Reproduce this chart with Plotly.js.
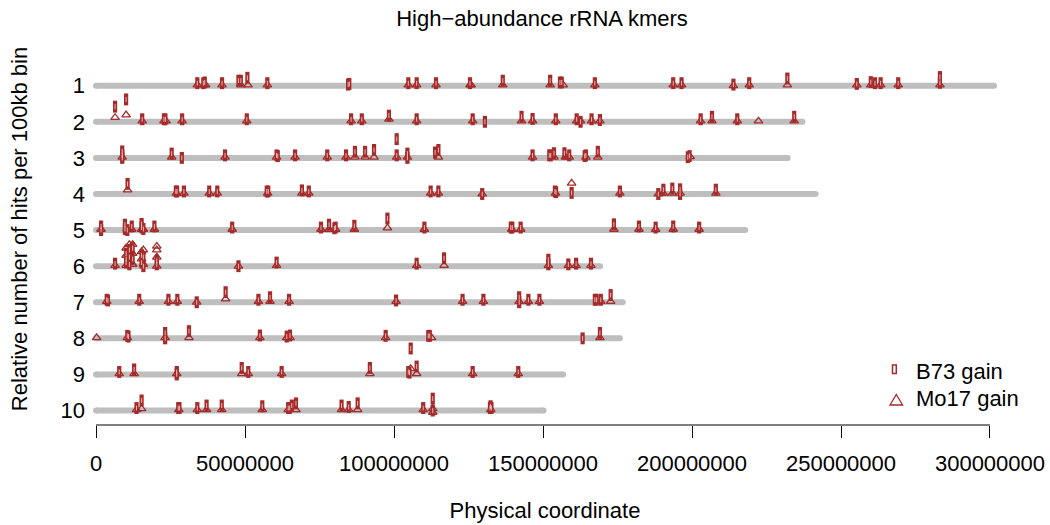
<!DOCTYPE html>
<html><head><meta charset="utf-8">
<script src="https://cdn.plot.ly/plotly-3.0.1.min.js"></script>
<style>html,body{margin:0;padding:0;background:#fff}#chart{width:1050px;height:525px}</style>
</head><body><div id="chart"></div>
<script>
// ---------------- data ----------------
const chromosomes = [1, 2, 3, 4, 5, 6, 7, 8, 9, 10];
const chrLengthsMb = [301.354, 237.069, 232.140, 241.474, 217.873, 169.174, 176.765, 175.794, 156.751, 150.189];
const xTickVals = [0, 50000000, 100000000, 150000000, 200000000, 250000000, 300000000];
const xTickText = ['0', '50000000', '100000000', '150000000', '200000000', '250000000', '300000000'];
const yTickText = ['1', '2', '3', '4', '5', '6', '7', '8', '9', '10'];
const seriesNames = ['B73 gain', 'Mo17 gain'];

// hits per chromosome: [position (Mb), relative number of hits]
const b73Gain = [
  [[34.0,.07],[36.0,.07],[36.5,.09],[42.3,.07],[47.8,.14],[48.6,.14],[50.8,.22],[57.5,.07],[84.6,.03],[85.0,.05],[104.8,.07],[107.6,.07],[114.1,.07],[125.5,.07],[136.5,.14],[152.4,.14],[155.7,.09],[156.3,.09],[167.4,.07],[193.7,.07],[196.5,.07],[213.9,.03],[219.2,.07],[232.0,.2],[255.3,.05],[260.0,.1],[261.4,.07],[263.3,.07],[269.2,.07],[283.2,.24],[283.2,.08]],
  [[6.4,.42],[10.1,.62],[15.5,.07],[22.8,.07],[23.3,.07],[28.9,.07],[50.6,.07],[85.6,.07],[89.2,.07],[98.3,.17],[107.6,.07],[126.4,.07],[130.5,0],[142.8,.14],[146.5,.08],[154.3,.07],[161.3,.07],[162.6,0],[166.3,.07],[169.1,.05],[202.9,.07],[206.7,.14],[215.2,.07],[234.3,.14]],
  [[8.8,.18],[8.8,.07],[8.8,0],[25.4,.12],[28.8,0],[43.3,.07],[60.6,.07],[61.0,.05],[66.8,.07],[77.6,.07],[83.9,.07],[86.9,.17],[90.3,.17],[93.3,.22],[100.9,.52],[100.9,.07],[104.5,.12],[104.5,0],[113.8,.15],[114.9,.22],[146.5,.07],[152.1,.07],[152.6,.07],[153.7,.13],[157.2,.13],[158.8,.07],[164.0,.05],[164.4,.07],[168.4,.17],[198.6,.02],[199.2,.05]],
  [[10.6,.28],[26.8,.07],[27.2,.07],[29.5,.07],[38.0,.07],[40.7,.07],[57.3,.07],[57.8,.07],[69.1,.1],[71.4,.07],[112.3,.07],[114.9,.07],[129.6,0],[154.0,.07],[154.4,.05],[159.6,.03],[175.8,.07],[188.7,0],[190.4,.12],[193.4,.15],[196.0,.13],[196.0,0],[208.0,.12]],
  [[1.7,.1],[1.7,0],[9.7,.15],[9.7,.03],[10.5,0],[12.0,.1],[15.3,.17],[15.3,.07],[15.9,.03],[19.6,.1],[45.7,.07],[75.5,.07],[78.2,.15],[80.0,.05],[80.4,.07],[86.7,.12],[97.8,.32],[110.2,.07],[139.2,.07],[139.7,.07],[142.5,.07],[173.8,.16],[182.2,.1],[187.8,.07],[193.7,.1],[202.4,.07]],
  [[6.4,.07],[10.1,.1],[10.1,.2],[10.1,.35],[11.2,.45],[11.2,.25],[11.2,.05],[12.3,.5],[12.3,.2],[15.3,.3],[15.3,.1],[15.9,.25],[15.9,0],[20.4,.15],[20.4,.05],[47.8,0],[60.6,.1],[107.6,.07],[116.8,.22],[151.8,.18],[151.8,.05],[158.5,.05],[161.1,.07],[166.1,.07]],
  [[3.6,.07],[4.0,.05],[14.5,.07],[24.3,.07],[27.3,.07],[33.8,0],[43.5,.28],[54.5,.07],[58.4,.14],[64.8,.07],[100.7,.05],[123.0,.07],[130.0,.07],[142.0,.14],[142.0,0],[145.1,.07],[148.8,.07],[167.4,.07],[168.0,.07],[169.4,.07],[172.7,.2]],
  [[10.5,.07],[10.9,.05],[23.2,.15],[23.2,0],[31.2,.2],[55.0,.08],[64.0,.05],[65.1,.08],[97.2,.07],[111.5,.07],[112.0,.07],[163.3,0],[169.1,.15]],
  [[7.8,.07],[12.8,.14],[27.1,.07],[27.1,0],[48.9,.18],[51.1,.07],[62.3,.07],[91.9,.18],[104.8,.07],[105.2,.05],[105.6,.72],[107.6,.22],[126.4,.07],[141.7,.07]],
  [[13.6,.07],[15.3,.28],[27.6,.07],[28.0,.07],[34.0,.07],[37.1,.14],[42.2,.14],[55.8,.12],[64.5,.07],[65.0,.07],[65.7,.14],[67.1,.2],[82.4,.14],[84.8,.1],[87.8,.2],[109.8,.07],[113.0,.33],[113.0,0],[132.2,.07],[132.7,.07],[132.4,.12]]
];
const mo17Gain = [
  [[34.0,.02],[36.2,.02],[36.8,.02],[42.3,.02],[48.6,.02],[51.0,.02],[57.5,.02],[104.8,.02],[107.6,.02],[114.1,.02],[125.5,.02],[125.9,.02],[136.5,.02],[152.4,.02],[156.8,.02],[167.4,.02],[193.7,.02],[196.5,.02],[213.9,0],[219.2,.02],[232.0,.02],[255.3,.02],[260.0,.02],[263.3,.02],[269.2,.02],[283.2,.02]],
  [[6.4,.12],[10.1,.19],[15.5,.02],[22.8,.02],[23.5,.02],[28.9,.02],[50.6,.02],[85.6,.02],[89.2,.02],[98.3,.07],[107.6,.02],[126.4,.02],[142.8,.02],[146.5,.02],[154.3,.02],[161.3,.02],[162.6,.02],[166.3,.02],[169.1,.02],[202.9,.02],[206.7,.02],[215.2,.02],[222.3,.02],[234.3,.02]],
  [[8.8,.02],[25.4,.02],[43.3,.02],[60.6,.02],[66.8,.02],[77.6,.02],[83.9,.02],[86.9,.02],[90.3,.02],[93.3,.02],[100.9,.02],[104.5,.02],[114.9,.02],[146.5,.02],[153.7,.02],[157.5,.02],[158.8,.02],[164.4,.02],[168.4,.02],[199.4,.03]],
  [[10.6,.11],[27.0,.02],[29.5,.02],[38.0,.02],[40.7,.02],[57.6,.02],[69.1,.02],[71.4,.02],[112.3,.02],[114.9,.02],[129.6,0],[154.2,.02],[159.6,.3],[175.8,.02],[188.7,0],[190.4,.02],[193.4,.02],[196.0,.02],[208.0,.02]],
  [[1.7,.02],[10.5,.02],[12.0,.02],[15.3,.02],[15.9,.02],[19.6,.02],[45.7,.02],[75.5,.02],[78.2,.02],[80.4,.02],[86.7,.02],[97.8,.06],[110.2,.02],[139.5,.02],[142.5,.02],[173.8,.02],[182.2,.02],[187.8,.02],[193.7,.02],[202.4,.02]],
  [[6.4,.02],[10.1,.02],[10.1,.3],[10.1,.5],[11.2,.6],[11.2,.4],[11.2,.15],[12.3,.6],[12.3,.35],[12.3,.05],[15.3,.4],[15.3,.2],[15.9,.45],[15.9,.05],[20.4,.55],[20.4,.45],[20.4,.25],[20.4,0],[47.8,0],[60.6,.02],[107.6,.02],[116.8,.02],[151.8,.02],[158.5,.02],[161.1,.02],[166.1,.02]],
  [[3.6,.02],[14.5,.02],[24.3,.02],[27.3,.02],[33.8,0],[43.5,.09],[54.5,.02],[58.4,.02],[64.8,.02],[100.7,.02],[123.0,.02],[130.0,.02],[142.0,.02],[145.1,.02],[148.8,.02],[169.4,.02],[172.7,.02]],
  [[0.2,.02],[10.5,.02],[23.2,.02],[31.2,.02],[55.0,.02],[64.0,.02],[65.1,.02],[97.2,.02],[112.6,.02],[169.1,.02]],
  [[7.8,.02],[12.8,.02],[27.1,.02],[48.9,.02],[51.1,.02],[62.3,.02],[91.9,.02],[105.6,.16],[107.6,.02],[126.4,.02],[141.7,.02]],
  [[13.6,.02],[15.3,.05],[27.8,.02],[34.0,.02],[37.1,.02],[42.2,.02],[55.8,.02],[64.5,.02],[67.1,.02],[82.4,.02],[84.8,.02],[87.8,.02],[109.8,.02],[113.0,.05],[113.0,-.05],[132.5,.02]]
];

// ---------------- build ----------------
const BROWN = '#A52A2A';
const FONT = 'Liberation Sans, Arial, Helvetica, sans-serif';

function flatten(hits) {
  const x = [], y = [];
  hits.forEach((list, i) => list.forEach(h => { x.push(h[0] * 1e6); y.push(chromosomes[i] - h[1]); }));
  return {x, y};
}

const lx = [], ly = [];
chromosomes.forEach((c, i) => { lx.push(0, chrLengthsMb[i] * 1e6, null); ly.push(c, c, null); });

const b = flatten(b73Gain), m = flatten(mo17Gain);

const traces = [
  {type: 'scatter', mode: 'lines+markers', x: lx, y: ly, connectgaps: false, showlegend: false, hoverinfo: 'skip',
   line: {color: '#BEBEBE', width: 6}, marker: {color: '#BEBEBE', size: 6, symbol: 'circle'}},
  {type: 'scatter', mode: 'markers', name: seriesNames[1], x: m.x, y: m.y, showlegend: false, cliponaxis: false,
   marker: {symbol: 'triangle-up-open', size: 7.5, color: BROWN, line: {width: 1.3}}},
  {type: 'scatter', mode: 'markers', name: seriesNames[0], x: b.x, y: b.y, showlegend: false, cliponaxis: false,
   marker: {symbol: 'line-ns-open', size: 8.5, color: BROWN, line: {width: 4.2}}},
  {type: 'scatter', mode: 'markers', x: b.x, y: b.y, showlegend: false, cliponaxis: false, hoverinfo: 'skip',
   marker: {symbol: 'line-ns-open', size: 3.5, color: 'rgba(255,225,225,0.85)', line: {width: 0.9}}}
];

const W = 1050, H = 525, ML = 86, MR = 46, MT = 33, MB = 100;
const PW = W - ML - MR, PH = H - MT - MB;
const px = v => (v - ML) / PW;        // pixel -> paper (x)
const py = v => (H - MB - v) / PH;    // pixel -> paper (y)

const shapes = [
  {type: 'line', xref: 'x', yref: 'paper', x0: xTickVals[0], x1: xTickVals[xTickVals.length - 1], y0: 0, y1: 0,
   line: {color: '#000', width: 1}},
  // legend symbols
  {type: 'rect', xref: 'paper', yref: 'paper', x0: px(892.5), x1: px(896.3), y0: py(373.5), y1: py(365),
   line: {color: BROWN, width: 1.5}, fillcolor: 'rgba(0,0,0,0)'},
  {type: 'path', xref: 'paper', yref: 'paper',
   path: `M${px(890)},${py(405)} L${px(902.6)},${py(405)} L${px(896.3)},${py(394.5)} Z`,
   line: {color: BROWN, width: 1.3}, fillcolor: 'rgba(0,0,0,0)'}
];

const annotations = [
  {xref: 'paper', yref: 'paper', x: px(914), y: py(371), xanchor: 'left', yanchor: 'middle', showarrow: false,
   text: seriesNames[0], font: {family: FONT, size: 22, color: '#000'}},
  {xref: 'paper', yref: 'paper', x: px(914), y: py(398.5), xanchor: 'left', yanchor: 'middle', showarrow: false,
   text: seriesNames[1], font: {family: FONT, size: 22, color: '#000'}}
];

const layout = {
  width: W, height: H,
  margin: {l: ML, r: MR, t: MT, b: MB, pad: 0},
  paper_bgcolor: '#fff', plot_bgcolor: '#fff',
  font: {family: FONT, size: 22, color: '#000'},
  showlegend: false,
  title: {text: 'High\u2212abundance rRNA kmers', font: {family: FONT, size: 22, color: '#000'},
          x: 542 / W, xref: 'container', xanchor: 'center', y: 1 - 18 / H, yref: 'container', yanchor: 'middle'},
  xaxis: {range: [-3.356e6, 304.7e6], showgrid: false, zeroline: false, showline: false,
          ticks: 'outside', ticklen: 12, tickwidth: 1, tickcolor: '#000',
          tickmode: 'array', tickvals: xTickVals, ticktext: xTickText, ticklabelstandoff: 7,
          tickfont: {family: FONT, size: 22, color: '#000'},
          title: {text: 'Physical coordinate', font: {family: FONT, size: 22, color: '#000'}, standoff: 27}},
  yaxis: {range: [10.4, -0.46], showgrid: false, zeroline: false, showline: false, ticks: '',
          tickmode: 'array', tickvals: chromosomes, ticktext: yTickText,
          tickfont: {family: FONT, size: 22, color: '#000'},
          title: {text: 'Relative number of hits per 100kb bin', font: {family: FONT, size: 22, color: '#000'}, standoff: 26}},
  shapes: shapes,
  annotations: annotations
};

Plotly.newPlot('chart', traces, layout, {staticPlot: true, displayModeBar: false});
</script>
</body></html>
